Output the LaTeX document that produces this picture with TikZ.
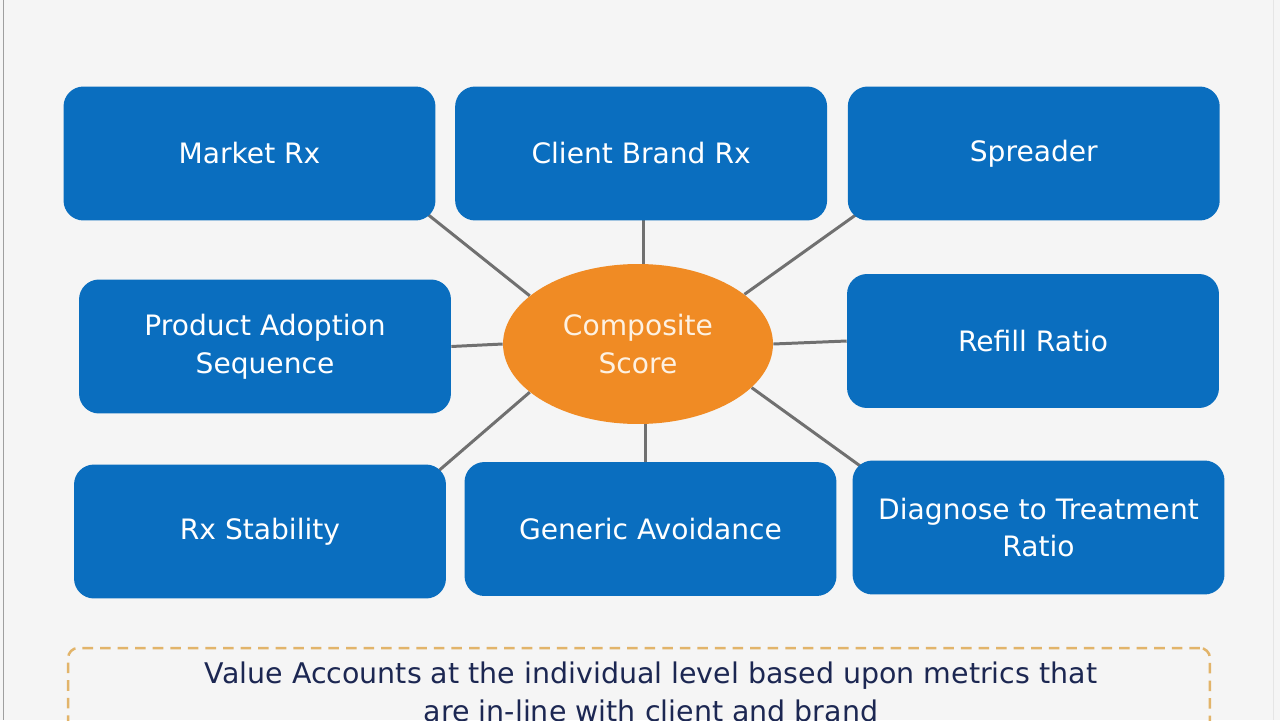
\documentclass[tikz,border=0pt]{standalone}
\usepackage{fontspec}
\setmainfont{DejaVu Sans}
\usetikzlibrary{positioning}
\usetikzlibrary{calc}
\usetikzlibrary{shapes.geometric}
\usetikzlibrary{backgrounds}
\definecolor{boxblue}{HTML}{0A6EBF}
\definecolor{scoreorange}{HTML}{F08B24}
\definecolor{scoretext}{HTML}{FDF1E2}
\definecolor{linkgray}{HTML}{707070}
\definecolor{noteline}{HTML}{E2B46A}
\definecolor{notetext}{HTML}{1C2752}
\definecolor{slidebg}{HTML}{F5F5F5}

\begin{document}
\begin{tikzpicture}[x=0.02cm, y=-0.02cm,
	mnode/.style={rectangle,rounded corners=0.4cm,fill=boxblue,text=white,minimum width=7.44cm,minimum height=2.68cm,align=center,font=\fontsize{16}{21.6}\selectfont},
	snode/.style={ellipse,fill=scoreorange,text=scoretext,minimum width=5.4cm,minimum height=3.2cm,align=center,font=\fontsize{16}{21.6}\selectfont},
	link/.style={draw=linkgray,line width=1.7pt},
	node distance = 0.38cm]
		\useasboundingbox (0,0) rectangle (1280,720);
		\clip (0,0) rectangle (1280,720);
		% metric boxes
		\node[mnode] (mrx) at (249.5,153.5) {Market Rx};
		\node[mnode] (cbr)[right = of mrx] {Client Brand Rx};
		\node[mnode] (spr)[right = 0.4cm of cbr] {Spreader};
		\node[mnode] (pas) at (265,346.5) {Product Adoption\\Sequence};
		\node[mnode] (rr) at (1033,341) {Refill Ratio};
		\node[mnode] (rxs) at (260,531.5) {Rx Stability};
		\node[mnode] (ga) at (650.5,529) {Generic Avoidance};
		\node[mnode] (dtr) at (1038.5,527.5) {Diagnose to Treatment\\Ratio};
		\node[snode] (cs) at (638,344) {Composite\\Score};
		% note at the bottom
		\node[draw=noteline,line width=1.4pt,dash pattern=on 6pt off 4pt,rounded corners=0.2cm,minimum width=22.84cm,minimum height=2.6cm] (notebox) at (639,713) {};
		\node[text=notetext,align=center,font=\fontsize{16.2}{21.6}\selectfont] (note) at (651,692) {Value Accounts at the individual level based upon metrics that\\are in-line with client and brand};
		\begin{scope}[on background layer]
			\fill[slidebg] (0,0) rectangle (1280,720);
			\draw[gray!75,line width=1pt] (3.5,0) -- (3.5,720);
			\draw[gray!20,line width=1pt] (1273.5,0) -- (1273.5,720);
			\draw[link] (cs.156) -- ($(cs.156)!1.25!(mrx.south east)$);
			\draw[link] (cs.25) -- ($(cs.25)!1.25!(spr.south west)$);
			\draw[link] (cs.204) -- ($(cs.204)!1.25!(rxs.north east)$);
			\draw[link] (cs.339) -- ($(cs.339)!1.25!(dtr.north west)$);
			\draw[link] ([xshift=0.1cm]cs.north) -- ([xshift=0.1cm]cs.north |- cbr.center);
			\draw[link] ([xshift=0.14cm]cs.south) -- ([xshift=0.14cm]cs.south |- ga.center);
			\draw[link] (cs.west) -- (pas.east);
			\draw[link] (cs.east) -- (rr.west);
		\end{scope}
	\end{tikzpicture}
\end{document}
